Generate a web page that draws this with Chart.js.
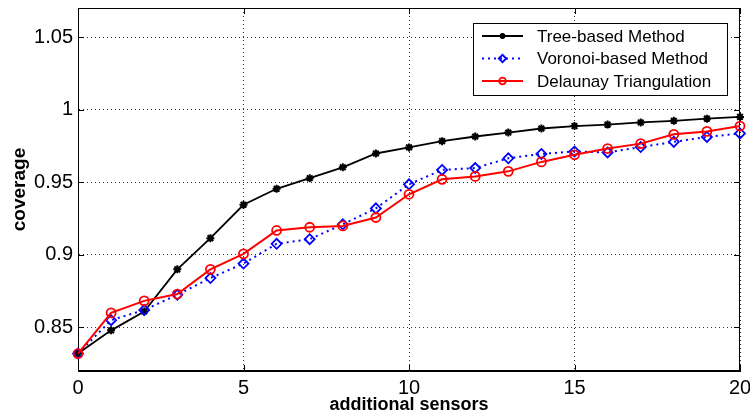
<!DOCTYPE html>
<html>
<head>
<meta charset="utf-8">
<script src="https://cdn.jsdelivr.net/npm/chart.js@4.4.1/dist/chart.umd.min.js"></script>
<style>
html, body { margin: 0; padding: 0; background: #fff; }
#wrap { width: 750px; height: 418px; }
</style>
</head>
<body>
<div id="wrap"><canvas id="chart" width="750" height="418"></canvas></div>
<script>
'use strict';

let sensors = [0, 1, 2, 3, 4, 5, 6, 7, 8, 9, 10, 11, 12, 13, 14, 15, 16, 17, 18, 19, 20];
let treeBased = [0.832, 0.848, 0.861, 0.890, 0.9115, 0.9345, 0.9455, 0.9528, 0.9603, 0.9698, 0.9740,
    0.9783, 0.9815, 0.9842, 0.9870, 0.9887, 0.9897, 0.9912, 0.9923, 0.9938, 0.9950];
let voronoiBased = [0.832, 0.855, 0.862, 0.8725, 0.884, 0.894, 0.9076, 0.9108, 0.921, 0.932, 0.9486,
    0.9585, 0.9598, 0.9665, 0.9695, 0.9712, 0.9705, 0.9742, 0.9778, 0.9812, 0.9836];
let delaunay = [0.832, 0.860, 0.8683, 0.873, 0.890, 0.9007, 0.9168, 0.919, 0.9199, 0.9257, 0.9417,
    0.952, 0.954, 0.9575, 0.964, 0.9689, 0.9732, 0.9766, 0.983, 0.985, 0.9887];
let xTicks = [0, 5, 10, 15, 20];
let yTicks = [0.85, 0.9, 0.95, 1, 1.05];

Chart.defaults.font.family = '"Liberation Sans", Arial, sans-serif';
Chart.defaults.color = '#000';

function points(values) {
    return sensors.map((s, i) => ({ x: s, y: values[i] }));
}

// box round the plot plus the little inner tick marks, matlab style
const frame = {
    id: 'frame',
    beforeDatasetsDraw(c) {
        const ctx = c.ctx;
        const a = c.chartArea;
        const xs = c.scales.x;
        const ys = c.scales.y;
        ctx.save();
        ctx.strokeStyle = '#000';
        ctx.lineWidth = 1;
        ctx.setLineDash([]);
        ctx.strokeRect(Math.round(a.left) + 0.5, Math.round(a.top) + 0.5,
            Math.round(a.right - a.left) - 1, Math.round(a.bottom - a.top) - 1);
        ctx.beginPath();
        xTicks.forEach(v => {
            let px = Math.round(xs.getPixelForValue(v)) + 0.5;
            ctx.moveTo(px, a.bottom); ctx.lineTo(px, a.bottom - 6);
            ctx.moveTo(px, a.top); ctx.lineTo(px, a.top + 6);
        });
        yTicks.forEach(v => {
            let py = Math.round(ys.getPixelForValue(v)) + 0.5;
            ctx.moveTo(a.left, py); ctx.lineTo(a.left + 6, py);
            ctx.moveTo(a.right, py); ctx.lineTo(a.right - 6, py);
        });
        ctx.stroke();
        ctx.restore();
    }
};

// legend box inside the plot, top right
const boxLegend = {
    id: 'boxLegend',
    afterDraw(c) {
        const ctx = c.ctx;
        const a = c.chartArea;
        const w = 254, h = 72;
        const x0 = Math.round(a.right - 13 - w);
        const y0 = Math.round(a.top + 15);
        ctx.save();
        ctx.fillStyle = '#fff';
        ctx.fillRect(x0, y0, w, h);
        ctx.strokeStyle = '#000';
        ctx.lineWidth = 1;
        ctx.strokeRect(x0 + 0.5, y0 + 0.5, w, h);
        c.data.datasets.forEach((ds, i) => {
            let y = y0 + 13 + i * 22.5;
            ctx.strokeStyle = ds.borderColor;
            ctx.lineWidth = ds.borderWidth;
            ctx.setLineDash(ds.borderDash || []);
            ctx.beginPath();
            ctx.moveTo(x0 + 9, y);
            ctx.lineTo(x0 + 50, y);
            ctx.stroke();
            ctx.setLineDash([]);
            ctx.fillStyle = ds.pointBackgroundColor;
            ctx.lineWidth = ds.pointBorderWidth;
            Chart.helpers.drawPoint(ctx, {
                pointStyle: ds.pointStyle,
                radius: ds.pointRadius * 0.75,
                rotation: 0,
                borderWidth: ds.pointBorderWidth
            }, x0 + 29.5, y);
            ctx.fillStyle = '#000';
            ctx.font = '17px "Liberation Sans", Arial, sans-serif';
            ctx.textBaseline = 'middle';
            ctx.fillText(ds.label, x0 + 64, y + 1);
        });
        ctx.restore();
    }
};

const chartEl = document.getElementById('chart').getContext('2d');

let chart = new Chart(chartEl, {
    type: 'line',
    data: {
        datasets: [{
            label: 'Tree-based Method',
            data: points(treeBased),
            borderColor: '#000',
            borderWidth: 1.8,
            pointStyle: 'star',
            pointRadius: 4,
            pointBorderWidth: 2,
            pointBorderColor: '#000',
            pointBackgroundColor: '#000',
            order: 2,
            clip: 8
        }, {
            label: 'Voronoi-based Method',
            data: points(voronoiBased),
            borderColor: '#0000ff',
            borderWidth: 2,
            borderDash: [2, 4],
            pointStyle: 'rectRot',
            pointRadius: 5,
            pointBorderWidth: 1.8,
            pointBorderColor: '#0000ff',
            pointBackgroundColor: 'rgba(0,0,0,0)',
            order: 1,
            clip: 8
        }, {
            label: 'Delaunay Triangulation',
            data: points(delaunay),
            borderColor: '#ff0000',
            borderWidth: 2,
            pointStyle: 'circle',
            pointRadius: 4.5,
            pointBorderWidth: 1.8,
            pointBorderColor: '#ff0000',
            pointBackgroundColor: 'rgba(0,0,0,0)',
            order: 0,
            clip: 8
        }]
    },
    options: {
        responsive: false,
        animation: false,
        devicePixelRatio: 1,
        layout: { padding: { top: 8, right: 10, left: 0, bottom: 0 } },
        plugins: { legend: { display: false }, tooltip: { enabled: false } },
        elements: { line: { tension: 0 } },
        scales: {
            x: {
                type: 'linear',
                min: 0,
                max: 20,
                afterBuildTicks: s => { s.ticks = xTicks.map(v => ({ value: v })); },
                afterFit: s => { s.height = 47; s.paddingLeft = 0; s.paddingRight = 0; },
                ticks: { font: { size: 20 }, color: '#000', padding: 5, maxRotation: 0 },
                grid: { drawTicks: false, color: 'rgba(0,0,0,0.8)', lineWidth: 1 },
                border: { color: '#000', width: 1, dash: [1, 3] },
                title: {
                    display: true,
                    text: 'additional sensors',
                    color: '#000',
                    font: { size: 18, weight: 'bold' },
                    padding: { top: 0, bottom: 2 }
                }
            },
            y: {
                min: 0.82,
                max: 1.07,
                afterBuildTicks: s => { s.ticks = yTicks.map(v => ({ value: v })); },
                afterFit: s => { s.width = 78; s.paddingTop = 0; s.paddingBottom = 0; },
                ticks: {
                    font: { size: 20 },
                    color: '#000',
                    padding: 5,
                    callback: v => String(Number(v.toFixed(2)))
                },
                grid: { drawTicks: false, color: 'rgba(0,0,0,0.8)', lineWidth: 1 },
                border: { color: '#000', width: 1, dash: [1, 3] },
                title: {
                    display: true,
                    text: 'coverage',
                    color: '#000',
                    font: { size: 19, weight: 'bold' },
                    padding: { top: 8, bottom: 0 }
                }
            }
        }
    },
    plugins: [frame, boxLegend]
});
</script>
</body>
</html>
